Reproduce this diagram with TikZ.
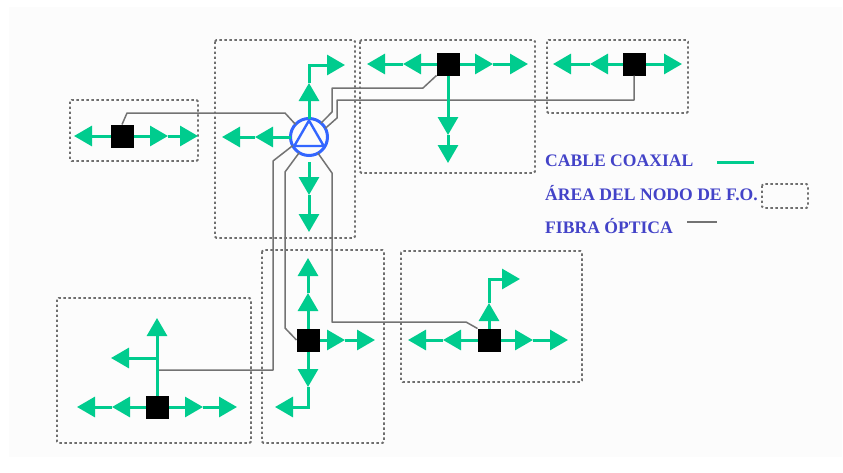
\documentclass[tikz,border=0pt]{standalone}
\usepackage{fontspec}
\setmainfont{Liberation Serif}
\usepackage{xcolor}
\usetikzlibrary{arrows.meta,shapes.geometric}
\definecolor{coax}{HTML}{00CC8E}
\definecolor{fiber}{HTML}{737373}
\definecolor{arealine}{HTML}{6E6E6E}
\definecolor{hubblue}{HTML}{3366FF}
\definecolor{legend}{HTML}{4343C8}
\definecolor{paper}{HTML}{FCFCFC}
\tikzset{
  cable/.style={draw=coax, line width=3pt, line join=miter, -{Triangle[length=18pt,width=20pt]}},
  cablebare/.style={draw=coax, line width=3pt},
  fibra/.style={draw=fiber, line width=1.5pt, line join=round},
  area/.style={draw=arealine, line width=1.9pt, dash pattern=on 2.4pt off 2.6pt, rounded corners=1.5pt},
  opt/.style={rectangle, fill=black, minimum size=23pt, inner sep=0pt, outer sep=0pt},
  hubring/.style={circle, draw=hubblue, line width=3pt, minimum size=37pt, inner sep=0pt, outer sep=0pt},
  hubtri/.style={regular polygon, regular polygon sides=3, draw=hubblue, line width=2.4pt, minimum size=34pt, inner sep=0pt, outer sep=0pt},
  lab/.style={text=legend, font=\bfseries\fontsize{17.6}{19}\selectfont, anchor=west, inner sep=0pt},
}
\begin{document}
\begin{tikzpicture}[x=1pt,y=-1pt]
  \useasboundingbox (0,0) rectangle (843,472);
  \fill[paper] (9,7) rectangle (842,457);
  % node areas
  \foreach \xa/\ya/\xb/\yb in {70/100/198/161,215/40/355/238,360/40/535/173,547/40/688/113,
    57/298/251/443,262/250/384/443,401/251/582/382,762/184/808/208}
    \draw[area] (\xa,\ya) rectangle (\xb,\yb);
  \node[hubring] (hub) at (309,137) {};
  \node[hubtri] (tri) at (309,137.5) {};
  \foreach \X/\x/\y in {N1/122/136,N2/448/64,N3/634/64,N4/157/407,N5/308/340,N6/489/340}
    \node[opt] (\X) at (\x,\y) {};
  \foreach \X/\x/\y in {
    h1/309/83,h2/309/65,h3/345/65,h4/255/137,h5/222/137,h6/309/162,h7/309/195,h8/309/232,
    a1/74/136,a2/168/136,a3/198/136,
    b1/403/64,b2/367/64,b3/493/64,b4/528/64,b5/448/135,b6/448/163,
    c1/590/64,c2/553/64,c3/682/64,
    d1/112/407,d2/77/407,d3/203/407,d4/237/407,d5/157/318,d6/157/358,d7/111/358,d8/157/370,
    e1/308/293,e2/308/258,e3/345/340,e4/375/340,e5/308/387,e6/308/407,e7/275/407,
    f1/443/340,f2/408/340,f3/533/340,f4/568/340,f5/489/303,f6/489/279,f7/520/279}
    \coordinate (\X) at (\x,\y);
  % fibre from the hub
  \draw[fibra] (hub.137) -- (285,113) -- (127,113) -- (N1.north);
  \draw[fibra] (hub.49) -- (332,112) -- (332,88) -- (423,88) -- (N2.south west);
  \draw[fibra] (hub.28) -- (337,118) -- (337,100) -- (634,100) -- (N3.south);
  \draw[fibra] (hub.208) -- (273,161) -- (273,370) -- (d8);
  \draw[fibra] (hub.238) -- (285,172) -- (285,328) -- (N5.west);
  \draw[fibra] (hub.299) -- (332,173) -- (332,322) -- (466,322) -- (N6.north west);
  % coaxial cable
  \foreach \from/\to in {hub/h1,hub/h4,h4/h5,h6/h7,h7/h8,
    N1/a1,N1/a2,a2/a3,
    N2/b1,b1/b2,N2/b3,b3/b4,N2/b5,b5/b6,
    N3/c1,c1/c2,N3/c3,
    N4/d1,d1/d2,N4/d3,d3/d4,N4/d5,d6/d7,
    N5/e1,e1/e2,N5/e3,e3/e4,N5/e5,
    N6/f1,f1/f2,N6/f3,f3/f4,N6/f5}
    \draw[cable] (\from) -- (\to);
  \draw[cable] (h1) -- (h2) -- (h3);
  \draw[cable] (e5) -- (e6) -- (e7);
  \draw[cable] (f5) -- (f6) -- (f7);
  % legend
  \node[lab] (lcoax) at (545,161) {CABLE COAXIAL};
  \node[lab] (larea) at (545,193) {ÁREA DEL NODO DE F.O.};
  \node[lab] (lfib) at (545,226) {FIBRA ÓPTICA};
  \coordinate (k1) at (717,162);
  \coordinate (k2) at (754,162);
  \coordinate (k3) at (687,222);
  \coordinate (k4) at (717,222);
  \draw[cablebare] (k1) -- (k2);
  \draw[fibra] (k3) -- (k4);
\end{tikzpicture}
\end{document}
